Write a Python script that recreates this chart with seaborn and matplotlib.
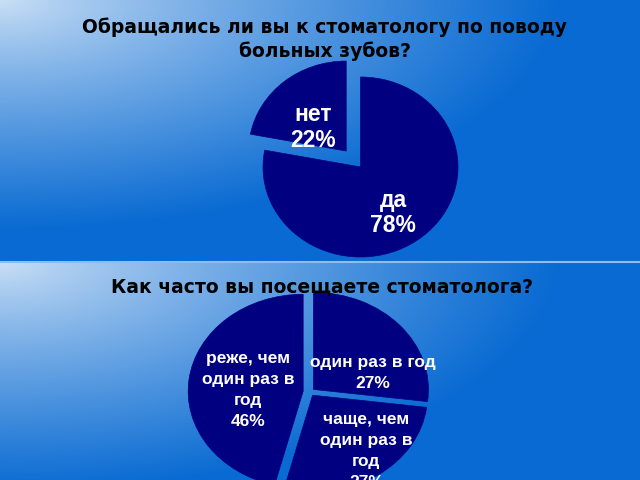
import numpy as np
import matplotlib
matplotlib.use("Agg")
import matplotlib.pyplot as plt
import seaborn as sns

# survey answers
visit_answers = ["да", "нет"]
visit_shares = [78, 22]

freq_answers = ["один раз в год", "чаще, чем\nодин раз в\nгод", "реже, чем\nодин раз в\nгод"]
freq_shares = [27, 27, 46]

title_top = "Обращались ли вы к стоматологу по поводу\nбольных зубов?"
title_bottom = "Как часто вы посещаете стоматолога?"

NAVY = "#000080"
LIGHT = np.array([203, 224, 246]) / 255
DARK = np.array([8, 106, 210]) / 255

sns.set_theme(style="white")
plt.rcParams["font.family"] = ["Liberation Sans", "DejaVu Sans"]

W, H = 640, 480
SPLIT = 262


def panel_gradient(w, h, sx, sy):
    """Slide-style gradient: light in the top-left corner, blue elsewhere."""
    xx, yy = np.meshgrid(np.arange(w), np.arange(h))
    t = np.clip(np.sqrt((xx / sx) ** 2 + (yy / sy) ** 2), 0, 1) ** 0.85
    return LIGHT * (1 - t[..., None]) + DARK * t[..., None]


def pie_axes(fig, cx, cy, rx, ry, pad=1.5):
    # axes placed so that the unit circle maps onto an ellipse (cx, cy, rx, ry) in pixels
    ax = fig.add_axes([(cx - rx * pad) / W, (H - cy - ry * pad) / H,
                       2 * rx * pad / W, 2 * ry * pad / H])
    return ax, pad


def draw_pie(ax, pad, shares, names, explode, place, fontsize, linespacing):
    wedges, _ = ax.pie(
        shares, startangle=90, counterclock=False,
        colors=[NAVY] * len(shares), explode=explode,
        wedgeprops=dict(edgecolor=NAVY, linewidth=0.5),
    )
    # labels inside each wedge: distance from wedge centre + small turn off the bisector
    for w, n, s, (d, dth) in zip(wedges, names, shares, place):
        ang = np.deg2rad((w.theta1 + w.theta2) / 2 + dth)
        cx, cy = w.center
        ax.text(cx + d * w.r * np.cos(ang), cy + d * w.r * np.sin(ang), f"{n}\n{s}%",
                ha="center", va="center", color="white", fontsize=fontsize,
                fontweight="bold", linespacing=linespacing)
    ax.set_aspect("auto")
    ax.set_xlim(-pad, pad)
    ax.set_ylim(-pad, pad)
    ax.axis("off")
    return wedges


fig = plt.figure(figsize=(6.4, 4.8), dpi=100)

# background panels
bg = fig.add_axes([0, 0, 1, 1])
bg.imshow(panel_gradient(W, SPLIT, 560, 230), extent=[0, W, SPLIT, 0], aspect="auto")
bg.imshow(panel_gradient(W, H - SPLIT, 560, 230), extent=[0, W, H, SPLIT], aspect="auto")
bg.axhline(SPLIT - 0.5, color="#8cbcf0", linewidth=1.5)
bg.set_xlim(0, W)
bg.set_ylim(H, 0)
bg.axis("off")

# top pie
ax1, p1 = pie_axes(fig, 360.5, 167, 97.5, 90)
draw_pie(ax1, p1, visit_shares, visit_answers, [0, 0.23],
         [(0.61, -6), (0.43, 13)], 16.5, 1.12)

# bottom pie
ax2, p2 = pie_axes(fig, 310, 392, 115, 97)
draw_pie(ax2, p2, freq_shares, freq_answers, [0.04, 0.04, 0.06],
         [(0.54, -23), (0.74, 5), (0.48, 5.5)], 12.5, 1.5)

fig.text(325 / W, 1 - 39 / H, title_top, ha="center", va="center",
         fontsize=13.5, fontweight="bold", color="black", linespacing=1.25,
         family="DejaVu Sans")
fig.text(322 / W, 1 - 287 / H, title_bottom, ha="center", va="center",
         fontsize=13.5, fontweight="bold", color="black", family="DejaVu Sans")

fig.savefig("out.png", dpi=100)
